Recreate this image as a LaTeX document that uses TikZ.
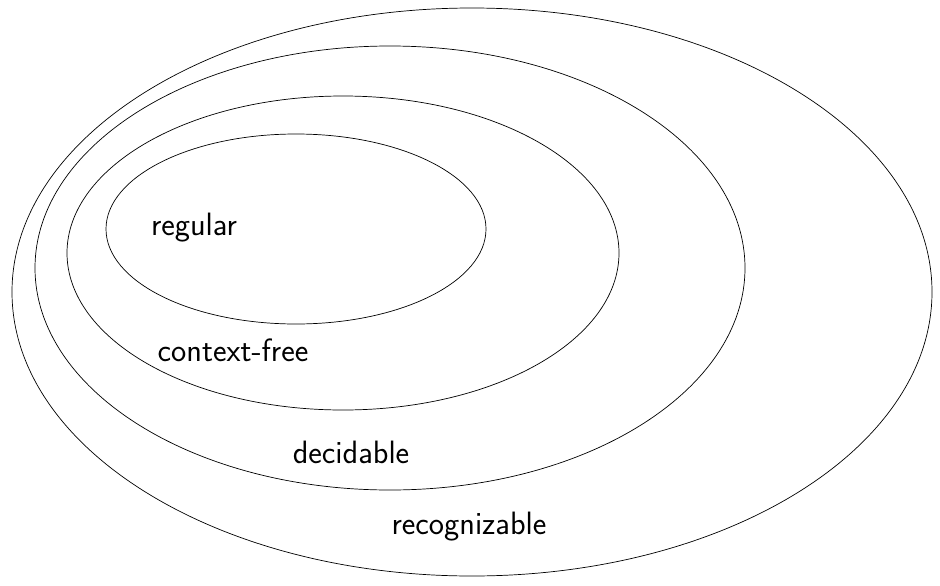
\documentclass[tikz,border=0pt]{standalone}
\begin{document}
\begin{tikzpicture}[x=0.02cm,y=-0.02cm,lbl/.style={font=\sffamily\fontsize{18.4}{22}\selectfont}]
\useasboundingbox(0,0)rectangle(940,585);
\draw(472,292)ellipse[x radius=460,y radius=284];\draw(390,268)ellipse[x radius=355,y radius=222];
\draw(343,253)ellipse[x radius=276,y radius=157];\draw(296,229)ellipse[x radius=190,y radius=95];
\node[lbl](reg)at(194,228){regular};\node[lbl](cf)at(233,350){context-free};
\node[lbl](dec)at(351,452){decidable};\node[lbl](rec)at(469,527){recognizable};
\end{tikzpicture}
\end{document}
